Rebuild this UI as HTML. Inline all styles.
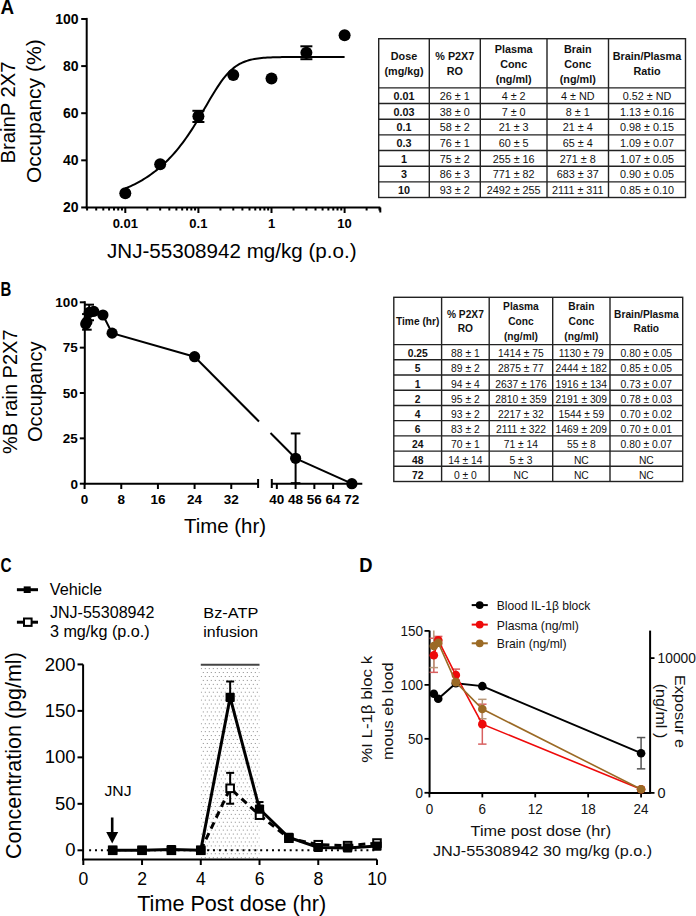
<!DOCTYPE html>
<html><head><meta charset="utf-8"><style>
html,body{margin:0;padding:0;background:#fff;}
svg{display:block;}
text{font-family:"Liberation Sans",sans-serif;}
</style></head><body>
<svg width="696" height="916" viewBox="0 0 696 916">
<rect width="696" height="916" fill="#fff"/>
<text font-size="20.8" font-weight="bold" transform="translate(0.43 14.20) scale(0.905 1)">A</text>
<line x1="86.70" y1="17.90" x2="86.70" y2="208.50" stroke="#000" stroke-width="2" />
<line x1="85.70" y1="207.50" x2="380.30" y2="207.50" stroke="#000" stroke-width="2" />
<line x1="81.20" y1="207.45" x2="86.70" y2="207.45" stroke="#000" stroke-width="2" />
<text x="78.60" y="212.35" font-size="14" font-weight="bold" text-anchor="end" >20</text>
<line x1="81.20" y1="160.33" x2="86.70" y2="160.33" stroke="#000" stroke-width="2" />
<text x="78.60" y="165.23" font-size="14" font-weight="bold" text-anchor="end" >40</text>
<line x1="81.20" y1="113.21" x2="86.70" y2="113.21" stroke="#000" stroke-width="2" />
<text x="78.60" y="118.11" font-size="14" font-weight="bold" text-anchor="end" >60</text>
<line x1="81.20" y1="66.09" x2="86.70" y2="66.09" stroke="#000" stroke-width="2" />
<text x="78.60" y="70.99" font-size="14" font-weight="bold" text-anchor="end" >80</text>
<line x1="81.20" y1="18.97" x2="86.70" y2="18.97" stroke="#000" stroke-width="2" />
<text x="78.60" y="23.87" font-size="14" font-weight="bold" text-anchor="end" >100</text>
<line x1="87.08" y1="207.50" x2="87.08" y2="210.50" stroke="#000" stroke-width="2" />
<line x1="96.21" y1="207.50" x2="96.21" y2="210.50" stroke="#000" stroke-width="2" />
<line x1="103.29" y1="207.50" x2="103.29" y2="210.50" stroke="#000" stroke-width="2" />
<line x1="109.08" y1="207.50" x2="109.08" y2="210.50" stroke="#000" stroke-width="2" />
<line x1="113.98" y1="207.50" x2="113.98" y2="210.50" stroke="#000" stroke-width="2" />
<line x1="118.22" y1="207.50" x2="118.22" y2="210.50" stroke="#000" stroke-width="2" />
<line x1="121.96" y1="207.50" x2="121.96" y2="210.50" stroke="#000" stroke-width="2" />
<line x1="125.30" y1="207.50" x2="125.30" y2="213.00" stroke="#000" stroke-width="2" />
<line x1="147.31" y1="207.50" x2="147.31" y2="210.50" stroke="#000" stroke-width="2" />
<line x1="160.18" y1="207.50" x2="160.18" y2="210.50" stroke="#000" stroke-width="2" />
<line x1="169.31" y1="207.50" x2="169.31" y2="210.50" stroke="#000" stroke-width="2" />
<line x1="176.39" y1="207.50" x2="176.39" y2="210.50" stroke="#000" stroke-width="2" />
<line x1="182.18" y1="207.50" x2="182.18" y2="210.50" stroke="#000" stroke-width="2" />
<line x1="187.08" y1="207.50" x2="187.08" y2="210.50" stroke="#000" stroke-width="2" />
<line x1="191.32" y1="207.50" x2="191.32" y2="210.50" stroke="#000" stroke-width="2" />
<line x1="195.06" y1="207.50" x2="195.06" y2="210.50" stroke="#000" stroke-width="2" />
<line x1="198.40" y1="207.50" x2="198.40" y2="213.00" stroke="#000" stroke-width="2" />
<line x1="220.41" y1="207.50" x2="220.41" y2="210.50" stroke="#000" stroke-width="2" />
<line x1="233.28" y1="207.50" x2="233.28" y2="210.50" stroke="#000" stroke-width="2" />
<line x1="242.41" y1="207.50" x2="242.41" y2="210.50" stroke="#000" stroke-width="2" />
<line x1="249.49" y1="207.50" x2="249.49" y2="210.50" stroke="#000" stroke-width="2" />
<line x1="255.28" y1="207.50" x2="255.28" y2="210.50" stroke="#000" stroke-width="2" />
<line x1="260.18" y1="207.50" x2="260.18" y2="210.50" stroke="#000" stroke-width="2" />
<line x1="264.42" y1="207.50" x2="264.42" y2="210.50" stroke="#000" stroke-width="2" />
<line x1="268.16" y1="207.50" x2="268.16" y2="210.50" stroke="#000" stroke-width="2" />
<line x1="271.50" y1="207.50" x2="271.50" y2="213.00" stroke="#000" stroke-width="2" />
<line x1="293.51" y1="207.50" x2="293.51" y2="210.50" stroke="#000" stroke-width="2" />
<line x1="306.38" y1="207.50" x2="306.38" y2="210.50" stroke="#000" stroke-width="2" />
<line x1="315.51" y1="207.50" x2="315.51" y2="210.50" stroke="#000" stroke-width="2" />
<line x1="322.59" y1="207.50" x2="322.59" y2="210.50" stroke="#000" stroke-width="2" />
<line x1="328.38" y1="207.50" x2="328.38" y2="210.50" stroke="#000" stroke-width="2" />
<line x1="333.28" y1="207.50" x2="333.28" y2="210.50" stroke="#000" stroke-width="2" />
<line x1="337.52" y1="207.50" x2="337.52" y2="210.50" stroke="#000" stroke-width="2" />
<line x1="341.26" y1="207.50" x2="341.26" y2="210.50" stroke="#000" stroke-width="2" />
<line x1="344.60" y1="207.50" x2="344.60" y2="213.00" stroke="#000" stroke-width="2" />
<line x1="366.61" y1="207.50" x2="366.61" y2="210.50" stroke="#000" stroke-width="2" />
<line x1="379.48" y1="207.50" x2="379.48" y2="210.50" stroke="#000" stroke-width="2" />
<line x1="380.30" y1="207.50" x2="380.30" y2="212.50" stroke="#000" stroke-width="2" />
<text x="125.30" y="228.30" font-size="13" font-weight="bold" text-anchor="middle" >0.01</text>
<text x="198.40" y="228.30" font-size="13" font-weight="bold" text-anchor="middle" >0.1</text>
<text x="271.50" y="228.30" font-size="13" font-weight="bold" text-anchor="middle" >1</text>
<text x="344.60" y="228.30" font-size="13" font-weight="bold" text-anchor="middle" >10</text>
<text x="107.00" y="257.60" font-size="20.5" textLength="249.50" lengthAdjust="spacingAndGlyphs" >JNJ-55308942 mg/kg (p.o.)</text>
<text x="14.70" y="112.60" font-size="20.5" text-anchor="middle" textLength="102.00" lengthAdjust="spacingAndGlyphs" transform="rotate(-90 14.70 112.60)" >BrainP 2X7</text>
<text x="41.40" y="111.20" font-size="20.5" text-anchor="middle" textLength="143.80" lengthAdjust="spacingAndGlyphs" transform="rotate(-90 41.40 111.20)" >Occupancy (%)</text>
<polyline fill="none" stroke="#000" stroke-width="2" points="125.30,188.54 127.14,187.76 128.99,186.94 130.83,186.09 132.67,185.21 134.51,184.30 136.36,183.35 138.20,182.36 140.04,181.33 141.89,180.26 143.73,179.15 145.57,178.00 147.41,176.81 149.26,175.56 151.10,174.27 152.94,172.93 154.79,171.54 156.63,170.09 158.47,168.59 160.31,167.03 162.16,165.41 164.00,163.72 165.84,161.98 167.69,160.17 169.53,158.29 171.37,156.34 173.21,154.32 175.06,152.22 176.90,150.05 178.74,147.81 180.59,145.48 182.43,143.08 184.27,140.60 186.11,138.03 187.96,135.39 189.80,132.67 191.64,129.88 193.49,127.01 195.33,124.08 197.17,121.08 199.01,118.02 200.86,114.92 202.70,111.78 204.54,108.62 206.39,105.44 208.23,102.27 210.07,99.12 211.91,96.00 213.76,92.95 215.60,89.97 217.44,87.09 219.29,84.32 221.13,81.68 222.97,79.19 224.81,76.85 226.66,74.67 228.50,72.66 230.34,70.82 232.19,69.14 234.03,67.63 235.87,66.27 237.71,65.06 239.56,63.98 241.40,63.04 243.24,62.20 245.09,61.47 246.93,60.84 248.77,60.28 250.61,59.80 252.46,59.39 254.30,59.03 256.14,58.73 257.99,58.46 259.83,58.23 261.67,58.04 263.51,57.87 265.36,57.73 267.20,57.61 269.04,57.50 270.89,57.41 272.73,57.34 274.57,57.27 276.41,57.22 278.26,57.17 280.10,57.13 281.94,57.10 283.79,57.07 285.63,57.04 287.47,57.02 289.31,57.00 291.16,56.99 293.00,56.97 294.84,56.96 296.69,56.95 298.53,56.95 300.37,56.94 302.21,56.93 304.06,56.93 305.90,56.92 307.74,56.92 309.59,56.92 311.43,56.91 313.27,56.91 315.11,56.91 316.96,56.91 318.80,56.91 320.64,56.91 322.49,56.91 324.33,56.90 326.17,56.90 328.01,56.90 329.86,56.90 331.70,56.90 333.54,56.90 335.39,56.90 337.23,56.90 339.07,56.90 340.91,56.90 342.76,56.90 344.60,56.90"/>
<circle cx="125.30" cy="193.20" r="6" fill="#000"/>
<circle cx="160.18" cy="164.20" r="6" fill="#000"/>
<line x1="198.40" y1="110.80" x2="198.40" y2="122.00" stroke="#000" stroke-width="2" />
<line x1="192.40" y1="110.80" x2="204.40" y2="110.80" stroke="#000" stroke-width="2" />
<line x1="192.40" y1="122.00" x2="204.40" y2="122.00" stroke="#000" stroke-width="2" />
<circle cx="198.40" cy="116.20" r="6" fill="#000"/>
<circle cx="233.28" cy="75.00" r="6" fill="#000"/>
<circle cx="271.50" cy="78.50" r="6" fill="#000"/>
<line x1="306.38" y1="46.30" x2="306.38" y2="59.20" stroke="#000" stroke-width="2" />
<line x1="300.38" y1="46.30" x2="312.38" y2="46.30" stroke="#000" stroke-width="2" />
<line x1="300.38" y1="59.20" x2="312.38" y2="59.20" stroke="#000" stroke-width="2" />
<circle cx="306.38" cy="52.80" r="6" fill="#000"/>
<circle cx="344.60" cy="35.30" r="6" fill="#000"/>
<rect x="378.70" y="38.70" width="306.80" height="158.80" fill="none" stroke="#222" stroke-width="1.4"/>
<line x1="429.30" y1="38.70" x2="429.30" y2="197.50" stroke="#222" stroke-width="1.4" />
<line x1="480.30" y1="38.70" x2="480.30" y2="197.50" stroke="#222" stroke-width="1.4" />
<line x1="547.00" y1="38.70" x2="547.00" y2="197.50" stroke="#222" stroke-width="1.4" />
<line x1="608.50" y1="38.70" x2="608.50" y2="197.50" stroke="#222" stroke-width="1.4" />
<line x1="378.70" y1="87.90" x2="685.50" y2="87.90" stroke="#222" stroke-width="1.4" />
<line x1="378.70" y1="103.56" x2="685.50" y2="103.56" stroke="#222" stroke-width="1.4" />
<line x1="378.70" y1="119.21" x2="685.50" y2="119.21" stroke="#222" stroke-width="1.4" />
<line x1="378.70" y1="134.87" x2="685.50" y2="134.87" stroke="#222" stroke-width="1.4" />
<line x1="378.70" y1="150.53" x2="685.50" y2="150.53" stroke="#222" stroke-width="1.4" />
<line x1="378.70" y1="166.19" x2="685.50" y2="166.19" stroke="#222" stroke-width="1.4" />
<line x1="378.70" y1="181.84" x2="685.50" y2="181.84" stroke="#222" stroke-width="1.4" />
<text x="404.00" y="60.08" font-size="10.8" font-weight="bold" text-anchor="middle" fill="#111" >Dose</text>
<text x="404.00" y="75.18" font-size="10.8" font-weight="bold" text-anchor="middle" fill="#111" >(mg/kg)</text>
<text x="454.80" y="60.08" font-size="10.8" font-weight="bold" text-anchor="middle" fill="#111" >% P2X7</text>
<text x="454.80" y="75.18" font-size="10.8" font-weight="bold" text-anchor="middle" fill="#111" >RO</text>
<text x="513.65" y="52.53" font-size="10.8" font-weight="bold" text-anchor="middle" fill="#111" >Plasma</text>
<text x="513.65" y="67.63" font-size="10.8" font-weight="bold" text-anchor="middle" fill="#111" >Conc</text>
<text x="513.65" y="82.73" font-size="10.8" font-weight="bold" text-anchor="middle" fill="#111" >(ng/ml)</text>
<text x="577.75" y="52.53" font-size="10.8" font-weight="bold" text-anchor="middle" fill="#111" >Brain</text>
<text x="577.75" y="67.63" font-size="10.8" font-weight="bold" text-anchor="middle" fill="#111" >Conc</text>
<text x="577.75" y="82.73" font-size="10.8" font-weight="bold" text-anchor="middle" fill="#111" >(ng/ml)</text>
<text x="647.00" y="60.08" font-size="10.8" font-weight="bold" text-anchor="middle" fill="#111" >Brain/Plasma</text>
<text x="647.00" y="75.18" font-size="10.8" font-weight="bold" text-anchor="middle" fill="#111" >Ratio</text>
<text x="404.00" y="100.16" font-size="10.8" font-weight="bold" text-anchor="middle" fill="#111" >0.01</text>
<text x="454.80" y="100.16" font-size="10.8" text-anchor="middle" fill="#111" >26 ± 1</text>
<text x="513.65" y="100.16" font-size="10.8" text-anchor="middle" fill="#111" >4 ± 2</text>
<text x="577.75" y="100.16" font-size="10.8" text-anchor="middle" fill="#111" >4 ± ND</text>
<text x="647.00" y="100.16" font-size="10.8" text-anchor="middle" fill="#111" >0.52 ± ND</text>
<text x="404.00" y="115.82" font-size="10.8" font-weight="bold" text-anchor="middle" fill="#111" >0.03</text>
<text x="454.80" y="115.82" font-size="10.8" text-anchor="middle" fill="#111" >38 ± 0</text>
<text x="513.65" y="115.82" font-size="10.8" text-anchor="middle" fill="#111" >7 ± 0</text>
<text x="577.75" y="115.82" font-size="10.8" text-anchor="middle" fill="#111" >8 ± 1</text>
<text x="647.00" y="115.82" font-size="10.8" text-anchor="middle" fill="#111" >1.13 ± 0.16</text>
<text x="404.00" y="131.48" font-size="10.8" font-weight="bold" text-anchor="middle" fill="#111" >0.1</text>
<text x="454.80" y="131.48" font-size="10.8" text-anchor="middle" fill="#111" >58 ± 2</text>
<text x="513.65" y="131.48" font-size="10.8" text-anchor="middle" fill="#111" >21 ± 3</text>
<text x="577.75" y="131.48" font-size="10.8" text-anchor="middle" fill="#111" >21 ± 4</text>
<text x="647.00" y="131.48" font-size="10.8" text-anchor="middle" fill="#111" >0.98 ± 0.15</text>
<text x="404.00" y="147.13" font-size="10.8" font-weight="bold" text-anchor="middle" fill="#111" >0.3</text>
<text x="454.80" y="147.13" font-size="10.8" text-anchor="middle" fill="#111" >76 ± 1</text>
<text x="513.65" y="147.13" font-size="10.8" text-anchor="middle" fill="#111" >60 ± 5</text>
<text x="577.75" y="147.13" font-size="10.8" text-anchor="middle" fill="#111" >65 ± 4</text>
<text x="647.00" y="147.13" font-size="10.8" text-anchor="middle" fill="#111" >1.09 ± 0.07</text>
<text x="404.00" y="162.79" font-size="10.8" font-weight="bold" text-anchor="middle" fill="#111" >1</text>
<text x="454.80" y="162.79" font-size="10.8" text-anchor="middle" fill="#111" >75 ± 2</text>
<text x="513.65" y="162.79" font-size="10.8" text-anchor="middle" fill="#111" >255 ± 16</text>
<text x="577.75" y="162.79" font-size="10.8" text-anchor="middle" fill="#111" >271 ± 8</text>
<text x="647.00" y="162.79" font-size="10.8" text-anchor="middle" fill="#111" >1.07 ± 0.05</text>
<text x="404.00" y="178.45" font-size="10.8" font-weight="bold" text-anchor="middle" fill="#111" >3</text>
<text x="454.80" y="178.45" font-size="10.8" text-anchor="middle" fill="#111" >86 ± 3</text>
<text x="513.65" y="178.45" font-size="10.8" text-anchor="middle" fill="#111" >771 ± 82</text>
<text x="577.75" y="178.45" font-size="10.8" text-anchor="middle" fill="#111" >683 ± 37</text>
<text x="647.00" y="178.45" font-size="10.8" text-anchor="middle" fill="#111" >0.90 ± 0.05</text>
<text x="404.00" y="194.11" font-size="10.8" font-weight="bold" text-anchor="middle" fill="#111" >10</text>
<text x="454.80" y="194.11" font-size="10.8" text-anchor="middle" fill="#111" >93 ± 2</text>
<text x="513.65" y="194.11" font-size="10.8" text-anchor="middle" fill="#111" >2492 ± 255</text>
<text x="577.75" y="194.11" font-size="10.8" text-anchor="middle" fill="#111" >2111 ± 311</text>
<text x="647.00" y="194.11" font-size="10.8" text-anchor="middle" fill="#111" >0.85 ± 0.10</text>
<text font-size="19.9" font-weight="bold" transform="translate(0.40 296.30) scale(0.75 1)">B</text>
<line x1="84.80" y1="301.20" x2="84.80" y2="484.70" stroke="#000" stroke-width="2" />
<line x1="83.80" y1="483.70" x2="258.10" y2="483.70" stroke="#000" stroke-width="2" />
<line x1="258.10" y1="479.00" x2="258.10" y2="488.00" stroke="#000" stroke-width="2" />
<line x1="271.80" y1="479.00" x2="271.80" y2="488.00" stroke="#000" stroke-width="2" />
<line x1="271.80" y1="483.70" x2="362.30" y2="483.70" stroke="#000" stroke-width="2" />
<line x1="79.80" y1="483.70" x2="84.80" y2="483.70" stroke="#000" stroke-width="2" />
<text x="77.90" y="488.50" font-size="13.5" font-weight="bold" text-anchor="end" >0</text>
<line x1="79.80" y1="438.35" x2="84.80" y2="438.35" stroke="#000" stroke-width="2" />
<text x="77.90" y="443.15" font-size="13.5" font-weight="bold" text-anchor="end" >25</text>
<line x1="79.80" y1="393.00" x2="84.80" y2="393.00" stroke="#000" stroke-width="2" />
<text x="77.90" y="397.80" font-size="13.5" font-weight="bold" text-anchor="end" >50</text>
<line x1="79.80" y1="347.65" x2="84.80" y2="347.65" stroke="#000" stroke-width="2" />
<text x="77.90" y="352.45" font-size="13.5" font-weight="bold" text-anchor="end" >75</text>
<line x1="79.80" y1="302.30" x2="84.80" y2="302.30" stroke="#000" stroke-width="2" />
<text x="77.90" y="307.10" font-size="13.5" font-weight="bold" text-anchor="end" >100</text>
<line x1="84.60" y1="483.70" x2="84.60" y2="489.00" stroke="#000" stroke-width="2" />
<text x="84.60" y="504.20" font-size="13.5" font-weight="bold" text-anchor="middle" >0</text>
<line x1="121.26" y1="483.70" x2="121.26" y2="489.00" stroke="#000" stroke-width="2" />
<text x="121.26" y="504.20" font-size="13.5" font-weight="bold" text-anchor="middle" >8</text>
<line x1="157.93" y1="483.70" x2="157.93" y2="489.00" stroke="#000" stroke-width="2" />
<text x="157.93" y="504.20" font-size="13.5" font-weight="bold" text-anchor="middle" >16</text>
<line x1="194.59" y1="483.70" x2="194.59" y2="489.00" stroke="#000" stroke-width="2" />
<text x="194.59" y="504.20" font-size="13.5" font-weight="bold" text-anchor="middle" >24</text>
<line x1="231.26" y1="483.70" x2="231.26" y2="489.00" stroke="#000" stroke-width="2" />
<text x="231.26" y="504.20" font-size="13.5" font-weight="bold" text-anchor="middle" >32</text>
<line x1="276.84" y1="483.70" x2="276.84" y2="489.00" stroke="#000" stroke-width="2" />
<text x="276.84" y="504.20" font-size="13.5" font-weight="bold" text-anchor="middle" >40</text>
<line x1="295.60" y1="483.70" x2="295.60" y2="489.00" stroke="#000" stroke-width="2" />
<text x="295.60" y="504.20" font-size="13.5" font-weight="bold" text-anchor="middle" >48</text>
<line x1="314.36" y1="483.70" x2="314.36" y2="489.00" stroke="#000" stroke-width="2" />
<text x="314.36" y="504.20" font-size="13.5" font-weight="bold" text-anchor="middle" >56</text>
<line x1="333.12" y1="483.70" x2="333.12" y2="489.00" stroke="#000" stroke-width="2" />
<text x="333.12" y="504.20" font-size="13.5" font-weight="bold" text-anchor="middle" >64</text>
<line x1="351.88" y1="483.70" x2="351.88" y2="489.00" stroke="#000" stroke-width="2" />
<text x="351.88" y="504.20" font-size="13.5" font-weight="bold" text-anchor="middle" >72</text>
<text x="184.00" y="533.00" font-size="20.3" textLength="82.00" lengthAdjust="spacingAndGlyphs" >Time (hr)</text>
<text x="16.50" y="391.75" font-size="20.5" text-anchor="middle" textLength="124.50" lengthAdjust="spacingAndGlyphs" transform="rotate(-90 16.50 391.75)" >%B rain P2X7</text>
<text x="42.00" y="391.75" font-size="20.5" text-anchor="middle" textLength="100.50" lengthAdjust="spacingAndGlyphs" transform="rotate(-90 42.00 391.75)" >Occupancy</text>
<polyline fill="none" stroke="#000" stroke-width="2" points="85.75,324.07 86.89,321.89 89.18,312.46 93.77,311.37 102.93,315.00 112.10,333.14 194.59,356.72"/>
<line x1="194.59" y1="356.72" x2="259.00" y2="421.50" stroke="#000" stroke-width="2" />
<line x1="270.50" y1="433.06" x2="295.60" y2="458.30" stroke="#000" stroke-width="2" />
<line x1="295.60" y1="458.30" x2="351.88" y2="483.70" stroke="#000" stroke-width="2" />
<line x1="86.89" y1="314.09" x2="86.89" y2="329.69" stroke="#000" stroke-width="2" />
<line x1="82.09" y1="314.09" x2="91.69" y2="314.09" stroke="#000" stroke-width="2" />
<line x1="82.09" y1="329.69" x2="91.69" y2="329.69" stroke="#000" stroke-width="2" />
<line x1="89.18" y1="304.66" x2="89.18" y2="320.26" stroke="#000" stroke-width="2" />
<line x1="84.38" y1="304.66" x2="93.98" y2="304.66" stroke="#000" stroke-width="2" />
<line x1="84.38" y1="320.26" x2="93.98" y2="320.26" stroke="#000" stroke-width="2" />
<line x1="295.60" y1="433.45" x2="295.60" y2="483.16" stroke="#000" stroke-width="2" />
<line x1="290.80" y1="433.45" x2="300.40" y2="433.45" stroke="#000" stroke-width="2" />
<line x1="290.80" y1="483.16" x2="300.40" y2="483.16" stroke="#000" stroke-width="2" />
<circle cx="85.75" cy="324.07" r="5.6" fill="#000"/>
<circle cx="86.89" cy="321.89" r="5.6" fill="#000"/>
<circle cx="89.18" cy="312.46" r="5.6" fill="#000"/>
<circle cx="93.77" cy="311.37" r="5.6" fill="#000"/>
<circle cx="102.93" cy="315.00" r="5.6" fill="#000"/>
<circle cx="112.10" cy="333.14" r="5.6" fill="#000"/>
<circle cx="194.59" cy="356.72" r="5.6" fill="#000"/>
<circle cx="295.60" cy="458.30" r="5.6" fill="#000"/>
<circle cx="351.88" cy="483.70" r="5.6" fill="#000"/>
<rect x="393.80" y="297.30" width="288.90" height="184.20" fill="none" stroke="#222" stroke-width="1.4"/>
<line x1="441.60" y1="297.30" x2="441.60" y2="481.50" stroke="#222" stroke-width="1.4" />
<line x1="489.20" y1="297.30" x2="489.20" y2="481.50" stroke="#222" stroke-width="1.4" />
<line x1="552.70" y1="297.30" x2="552.70" y2="481.50" stroke="#222" stroke-width="1.4" />
<line x1="610.00" y1="297.30" x2="610.00" y2="481.50" stroke="#222" stroke-width="1.4" />
<line x1="393.80" y1="344.60" x2="682.70" y2="344.60" stroke="#222" stroke-width="1.4" />
<line x1="393.80" y1="359.81" x2="682.70" y2="359.81" stroke="#222" stroke-width="1.4" />
<line x1="393.80" y1="375.02" x2="682.70" y2="375.02" stroke="#222" stroke-width="1.4" />
<line x1="393.80" y1="390.23" x2="682.70" y2="390.23" stroke="#222" stroke-width="1.4" />
<line x1="393.80" y1="405.44" x2="682.70" y2="405.44" stroke="#222" stroke-width="1.4" />
<line x1="393.80" y1="420.66" x2="682.70" y2="420.66" stroke="#222" stroke-width="1.4" />
<line x1="393.80" y1="435.87" x2="682.70" y2="435.87" stroke="#222" stroke-width="1.4" />
<line x1="393.80" y1="451.08" x2="682.70" y2="451.08" stroke="#222" stroke-width="1.4" />
<line x1="393.80" y1="466.29" x2="682.70" y2="466.29" stroke="#222" stroke-width="1.4" />
<text x="417.70" y="325.07" font-size="10.2" font-weight="bold" text-anchor="middle" fill="#111" >Time (hr)</text>
<text x="465.40" y="317.67" font-size="10.2" font-weight="bold" text-anchor="middle" fill="#111" >% P2X7</text>
<text x="465.40" y="332.47" font-size="10.2" font-weight="bold" text-anchor="middle" fill="#111" >RO</text>
<text x="520.95" y="310.27" font-size="10.2" font-weight="bold" text-anchor="middle" fill="#111" >Plasma</text>
<text x="520.95" y="325.07" font-size="10.2" font-weight="bold" text-anchor="middle" fill="#111" >Conc</text>
<text x="520.95" y="339.87" font-size="10.2" font-weight="bold" text-anchor="middle" fill="#111" >(ng/ml)</text>
<text x="581.35" y="310.27" font-size="10.2" font-weight="bold" text-anchor="middle" fill="#111" >Brain</text>
<text x="581.35" y="325.07" font-size="10.2" font-weight="bold" text-anchor="middle" fill="#111" >Conc</text>
<text x="581.35" y="339.87" font-size="10.2" font-weight="bold" text-anchor="middle" fill="#111" >(ng/ml)</text>
<text x="646.35" y="317.67" font-size="10.2" font-weight="bold" text-anchor="middle" fill="#111" >Brain/Plasma</text>
<text x="646.35" y="332.47" font-size="10.2" font-weight="bold" text-anchor="middle" fill="#111" >Ratio</text>
<text x="417.70" y="357.16" font-size="10.3" font-weight="bold" text-anchor="middle" fill="#111" >0.25</text>
<text x="465.40" y="357.16" font-size="10.3" text-anchor="middle" fill="#111" >88 ± 1</text>
<text x="520.95" y="357.16" font-size="10.3" text-anchor="middle" fill="#111" >1414 ± 75</text>
<text x="581.35" y="357.16" font-size="10.3" text-anchor="middle" fill="#111" >1130 ± 79</text>
<text x="646.35" y="357.16" font-size="10.3" text-anchor="middle" fill="#111" >0.80 ± 0.05</text>
<text x="417.70" y="372.37" font-size="10.3" font-weight="bold" text-anchor="middle" fill="#111" >5</text>
<text x="465.40" y="372.37" font-size="10.3" text-anchor="middle" fill="#111" >89 ± 2</text>
<text x="520.95" y="372.37" font-size="10.3" text-anchor="middle" fill="#111" >2875 ± 77</text>
<text x="581.35" y="372.37" font-size="10.3" text-anchor="middle" fill="#111" >2444 ± 182</text>
<text x="646.35" y="372.37" font-size="10.3" text-anchor="middle" fill="#111" >0.85 ± 0.05</text>
<text x="417.70" y="387.58" font-size="10.3" font-weight="bold" text-anchor="middle" fill="#111" >1</text>
<text x="465.40" y="387.58" font-size="10.3" text-anchor="middle" fill="#111" >94 ± 4</text>
<text x="520.95" y="387.58" font-size="10.3" text-anchor="middle" fill="#111" >2637 ± 176</text>
<text x="581.35" y="387.58" font-size="10.3" text-anchor="middle" fill="#111" >1916 ± 134</text>
<text x="646.35" y="387.58" font-size="10.3" text-anchor="middle" fill="#111" >0.73 ± 0.07</text>
<text x="417.70" y="402.80" font-size="10.3" font-weight="bold" text-anchor="middle" fill="#111" >2</text>
<text x="465.40" y="402.80" font-size="10.3" text-anchor="middle" fill="#111" >95 ± 2</text>
<text x="520.95" y="402.80" font-size="10.3" text-anchor="middle" fill="#111" >2810 ± 359</text>
<text x="581.35" y="402.80" font-size="10.3" text-anchor="middle" fill="#111" >2191 ± 309</text>
<text x="646.35" y="402.80" font-size="10.3" text-anchor="middle" fill="#111" >0.78 ± 0.03</text>
<text x="417.70" y="418.01" font-size="10.3" font-weight="bold" text-anchor="middle" fill="#111" >4</text>
<text x="465.40" y="418.01" font-size="10.3" text-anchor="middle" fill="#111" >93 ± 2</text>
<text x="520.95" y="418.01" font-size="10.3" text-anchor="middle" fill="#111" >2217 ± 32</text>
<text x="581.35" y="418.01" font-size="10.3" text-anchor="middle" fill="#111" >1544 ± 59</text>
<text x="646.35" y="418.01" font-size="10.3" text-anchor="middle" fill="#111" >0.70 ± 0.02</text>
<text x="417.70" y="433.22" font-size="10.3" font-weight="bold" text-anchor="middle" fill="#111" >6</text>
<text x="465.40" y="433.22" font-size="10.3" text-anchor="middle" fill="#111" >83 ± 2</text>
<text x="520.95" y="433.22" font-size="10.3" text-anchor="middle" fill="#111" >2111 ± 322</text>
<text x="581.35" y="433.22" font-size="10.3" text-anchor="middle" fill="#111" >1469 ± 209</text>
<text x="646.35" y="433.22" font-size="10.3" text-anchor="middle" fill="#111" >0.70 ± 0.01</text>
<text x="417.70" y="448.43" font-size="10.3" font-weight="bold" text-anchor="middle" fill="#111" >24</text>
<text x="465.40" y="448.43" font-size="10.3" text-anchor="middle" fill="#111" >70 ± 1</text>
<text x="520.95" y="448.43" font-size="10.3" text-anchor="middle" fill="#111" >71 ± 14</text>
<text x="581.35" y="448.43" font-size="10.3" text-anchor="middle" fill="#111" >55 ± 8</text>
<text x="646.35" y="448.43" font-size="10.3" text-anchor="middle" fill="#111" >0.80 ± 0.07</text>
<text x="417.70" y="463.64" font-size="10.3" font-weight="bold" text-anchor="middle" fill="#111" >48</text>
<text x="465.40" y="463.64" font-size="10.3" text-anchor="middle" fill="#111" >14 ± 14</text>
<text x="520.95" y="463.64" font-size="10.3" text-anchor="middle" fill="#111" >5 ± 3</text>
<text x="581.35" y="463.64" font-size="10.3" text-anchor="middle" fill="#111" >NC</text>
<text x="646.35" y="463.64" font-size="10.3" text-anchor="middle" fill="#111" >NC</text>
<text x="417.70" y="478.85" font-size="10.3" font-weight="bold" text-anchor="middle" fill="#111" >72</text>
<text x="465.40" y="478.85" font-size="10.3" text-anchor="middle" fill="#111" >0 ± 0</text>
<text x="520.95" y="478.85" font-size="10.3" text-anchor="middle" fill="#111" >NC</text>
<text x="581.35" y="478.85" font-size="10.3" text-anchor="middle" fill="#111" >NC</text>
<text x="646.35" y="478.85" font-size="10.3" text-anchor="middle" fill="#111" >NC</text>
<text font-size="20.5" font-weight="bold" transform="translate(0.47 572.00) scale(0.75 1)">C</text>
<defs><pattern id="dots" x="200.8" y="668.1" width="4" height="7.88" patternUnits="userSpaceOnUse"><rect x="0" y="0" width="1" height="1" fill="#888"/><rect x="2" y="3.94" width="1" height="1" fill="#888"/></pattern></defs>
<rect x="200.78" y="667.5" width="58.74" height="191.80" fill="url(#dots)"/>
<line x1="200.78" y1="664.80" x2="259.52" y2="664.80" stroke="#444" stroke-width="2" />
<text x="203.30" y="618.10" font-size="15.5" textLength="55.00" lengthAdjust="spacingAndGlyphs" >Bz-ATP</text>
<text x="203.30" y="636.90" font-size="15.5" textLength="54.80" lengthAdjust="spacingAndGlyphs" >infusion</text>
<line x1="83.10" y1="664.40" x2="83.10" y2="860.30" stroke="#000" stroke-width="2" />
<line x1="82.10" y1="859.40" x2="377.00" y2="859.40" stroke="#000" stroke-width="2" />
<line x1="77.50" y1="850.30" x2="83.10" y2="850.30" stroke="#000" stroke-width="2" />
<text x="75.50" y="856.40" font-size="18.5" text-anchor="end" >0</text>
<line x1="77.50" y1="803.82" x2="83.10" y2="803.82" stroke="#000" stroke-width="2" />
<text x="75.50" y="809.92" font-size="18.5" text-anchor="end" >50</text>
<line x1="77.50" y1="757.35" x2="83.10" y2="757.35" stroke="#000" stroke-width="2" />
<text x="75.50" y="763.45" font-size="18.5" text-anchor="end" >100</text>
<line x1="77.50" y1="710.88" x2="83.10" y2="710.88" stroke="#000" stroke-width="2" />
<text x="75.50" y="716.98" font-size="18.5" text-anchor="end" >150</text>
<line x1="77.50" y1="664.40" x2="83.10" y2="664.40" stroke="#000" stroke-width="2" />
<text x="75.50" y="670.50" font-size="18.5" text-anchor="end" >200</text>
<line x1="83.30" y1="859.40" x2="83.30" y2="865.00" stroke="#000" stroke-width="2" />
<text x="83.30" y="884.70" font-size="18.5" text-anchor="middle" textLength="9.77" lengthAdjust="spacingAndGlyphs" >0</text>
<line x1="142.04" y1="859.40" x2="142.04" y2="865.00" stroke="#000" stroke-width="2" />
<text x="142.04" y="884.70" font-size="18.5" text-anchor="middle" textLength="9.77" lengthAdjust="spacingAndGlyphs" >2</text>
<line x1="200.78" y1="859.40" x2="200.78" y2="865.00" stroke="#000" stroke-width="2" />
<text x="200.78" y="884.70" font-size="18.5" text-anchor="middle" textLength="9.77" lengthAdjust="spacingAndGlyphs" >4</text>
<line x1="259.52" y1="859.40" x2="259.52" y2="865.00" stroke="#000" stroke-width="2" />
<text x="259.52" y="884.70" font-size="18.5" text-anchor="middle" textLength="9.77" lengthAdjust="spacingAndGlyphs" >6</text>
<line x1="318.26" y1="859.40" x2="318.26" y2="865.00" stroke="#000" stroke-width="2" />
<text x="318.26" y="884.70" font-size="18.5" text-anchor="middle" textLength="9.77" lengthAdjust="spacingAndGlyphs" >8</text>
<line x1="377.00" y1="859.40" x2="377.00" y2="865.00" stroke="#000" stroke-width="2" />
<text x="377.00" y="884.70" font-size="18.5" text-anchor="middle" textLength="19.54" lengthAdjust="spacingAndGlyphs" >10</text>
<text x="137.20" y="911.00" font-size="21.5" textLength="189.00" lengthAdjust="spacingAndGlyphs" >Time Post dose (hr)</text>
<text x="21.50" y="755.60" font-size="21.5" text-anchor="middle" textLength="206.80" lengthAdjust="spacingAndGlyphs" transform="rotate(-90 21.50 755.60)" >Concentration (pg/ml)</text>
<line x1="16.90" y1="589.70" x2="38.00" y2="589.70" stroke="#000" stroke-width="3" />
<rect x="23.7" y="586.4" width="7" height="6.6" fill="#000"/>
<text x="49.70" y="594.60" font-size="16" textLength="52.40" lengthAdjust="spacingAndGlyphs" >Vehicle</text>
<line x1="16.90" y1="622.20" x2="38.00" y2="622.20" stroke="#000" stroke-width="3" />
<rect x="24" y="618.5" width="7.6" height="7.4" fill="#fff" stroke="#000" stroke-width="2"/>
<text x="49.90" y="618.40" font-size="16" textLength="104.50" lengthAdjust="spacingAndGlyphs" >JNJ-55308942</text>
<text x="49.90" y="636.60" font-size="16" textLength="99.80" lengthAdjust="spacingAndGlyphs" >3 mg/kg (p.o.)</text>
<text x="104.50" y="795.60" font-size="15" textLength="27.00" lengthAdjust="spacingAndGlyphs" >JNJ</text>
<line x1="112.20" y1="817.50" x2="112.20" y2="834.00" stroke="#000" stroke-width="2.6" />
<polygon points="106.2,832 118.2,832 112.2,843.5" fill="#000"/>
<line x1="89.1" y1="850.3" x2="377.00" y2="850.3" stroke="#000" stroke-width="2" stroke-dasharray="2 3.9" />
<polyline fill="none" stroke="#000" stroke-width="3" stroke-dasharray="7 5" points="200.78,850.30 230.15,788.30 259.52,815.16 288.89,838.22 318.26,844.72 347.63,845.65 377.00,843.05"/>
<polyline fill="none" stroke="#000" stroke-width="3" points="112.67,850.30 142.04,850.30 171.41,849.56 200.78,850.30 230.15,697.30 259.52,809.03 288.89,837.47 318.26,847.51 347.63,847.88 377.00,846.12"/>
<line x1="230.15" y1="772.87" x2="230.15" y2="803.73" stroke="#000" stroke-width="2" />
<line x1="226.15" y1="772.87" x2="234.15" y2="772.87" stroke="#000" stroke-width="2" />
<line x1="226.15" y1="803.73" x2="234.15" y2="803.73" stroke="#000" stroke-width="2" />
<line x1="230.15" y1="681.50" x2="230.15" y2="697.30" stroke="#000" stroke-width="2" />
<line x1="226.15" y1="681.50" x2="234.15" y2="681.50" stroke="#000" stroke-width="2" />
<line x1="259.52" y1="802.06" x2="259.52" y2="809.03" stroke="#000" stroke-width="2" />
<line x1="255.52" y1="802.06" x2="263.52" y2="802.06" stroke="#000" stroke-width="2" />
<rect x="108.87" y="846.50" width="7.6" height="7.6" fill="#fff" stroke="#000" stroke-width="2"/>
<rect x="138.24" y="846.50" width="7.6" height="7.6" fill="#fff" stroke="#000" stroke-width="2"/>
<rect x="167.61" y="846.50" width="7.6" height="7.6" fill="#fff" stroke="#000" stroke-width="2"/>
<rect x="196.98" y="846.50" width="7.6" height="7.6" fill="#fff" stroke="#000" stroke-width="2"/>
<rect x="226.35" y="784.50" width="7.6" height="7.6" fill="#fff" stroke="#000" stroke-width="2"/>
<rect x="255.72" y="811.36" width="7.6" height="7.6" fill="#fff" stroke="#000" stroke-width="2"/>
<rect x="285.09" y="834.42" width="7.6" height="7.6" fill="#fff" stroke="#000" stroke-width="2"/>
<rect x="314.46" y="840.92" width="7.6" height="7.6" fill="#fff" stroke="#000" stroke-width="2"/>
<rect x="343.83" y="841.85" width="7.6" height="7.6" fill="#fff" stroke="#000" stroke-width="2"/>
<rect x="373.20" y="839.25" width="7.6" height="7.6" fill="#fff" stroke="#000" stroke-width="2"/>
<rect x="108.07" y="845.70" width="9.2" height="9.2" fill="#000" rx="1"/>
<rect x="137.44" y="845.70" width="9.2" height="9.2" fill="#000" rx="1"/>
<rect x="166.81" y="844.96" width="9.2" height="9.2" fill="#000" rx="1"/>
<rect x="196.18" y="845.70" width="9.2" height="9.2" fill="#000" rx="1"/>
<rect x="225.55" y="692.70" width="9.2" height="9.2" fill="#000" rx="1"/>
<rect x="254.92" y="804.43" width="9.2" height="9.2" fill="#000" rx="1"/>
<rect x="284.29" y="832.87" width="9.2" height="9.2" fill="#000" rx="1"/>
<rect x="313.66" y="842.91" width="9.2" height="9.2" fill="#000" rx="1"/>
<rect x="343.03" y="843.28" width="9.2" height="9.2" fill="#000" rx="1"/>
<rect x="372.40" y="841.52" width="9.2" height="9.2" fill="#000" rx="1"/>
<text font-size="20.2" font-weight="bold" transform="translate(359.27 571.50) scale(0.91 1)">D</text>
<line x1="471.70" y1="605.10" x2="487.80" y2="605.10" stroke="#000" stroke-width="2" />
<circle cx="479.70" cy="605.10" r="3.9" fill="#000"/>
<line x1="471.70" y1="624.60" x2="487.80" y2="624.60" stroke="#ee0a0a" stroke-width="2" />
<circle cx="479.70" cy="624.60" r="3.9" fill="#ee0a0a"/>
<line x1="471.70" y1="643.30" x2="487.80" y2="643.30" stroke="#9b6a25" stroke-width="2" />
<circle cx="479.70" cy="643.30" r="3.9" fill="#9b6a25"/>
<text x="496.80" y="610.10" font-size="12.2" fill="#111" textLength="93.60" lengthAdjust="spacingAndGlyphs" >Blood IL-1β block</text>
<text x="496.80" y="629.60" font-size="12.2" fill="#111" textLength="81.98" lengthAdjust="spacingAndGlyphs" >Plasma (ng/ml)</text>
<text x="496.80" y="648.30" font-size="12.2" fill="#111" >Brain (ng/ml)</text>
<line x1="429.60" y1="630.60" x2="429.60" y2="793.90" stroke="#000" stroke-width="2" />
<line x1="428.60" y1="792.90" x2="650.10" y2="792.90" stroke="#000" stroke-width="2" />
<line x1="650.10" y1="630.60" x2="650.10" y2="793.90" stroke="#000" stroke-width="2" />
<line x1="424.50" y1="792.80" x2="429.60" y2="792.80" stroke="#000" stroke-width="1.8" />
<text x="423.00" y="798.20" font-size="14.5" text-anchor="end" fill="#111" textLength="7.50" lengthAdjust="spacingAndGlyphs" >0</text>
<line x1="424.50" y1="738.83" x2="429.60" y2="738.83" stroke="#000" stroke-width="1.8" />
<text x="423.00" y="744.23" font-size="14.5" text-anchor="end" fill="#111" textLength="15.00" lengthAdjust="spacingAndGlyphs" >50</text>
<line x1="424.50" y1="684.87" x2="429.60" y2="684.87" stroke="#000" stroke-width="1.8" />
<text x="423.00" y="690.27" font-size="14.5" text-anchor="end" fill="#111" textLength="22.49" lengthAdjust="spacingAndGlyphs" >100</text>
<line x1="424.50" y1="630.90" x2="429.60" y2="630.90" stroke="#000" stroke-width="1.8" />
<text x="423.00" y="636.30" font-size="14.5" text-anchor="end" fill="#111" textLength="22.49" lengthAdjust="spacingAndGlyphs" >150</text>
<line x1="650.10" y1="658.10" x2="654.50" y2="658.10" stroke="#000" stroke-width="1.8" />
<line x1="650.10" y1="792.90" x2="654.50" y2="792.90" stroke="#000" stroke-width="1.8" />
<text x="657.60" y="663.20" font-size="14.5" fill="#111" textLength="38.29" lengthAdjust="spacingAndGlyphs" >10000</text>
<text x="657.40" y="798.30" font-size="14.5" fill="#111" >0</text>
<line x1="429.40" y1="792.90" x2="429.40" y2="797.40" stroke="#000" stroke-width="1.8" />
<text x="429.40" y="813.90" font-size="14.5" text-anchor="middle" fill="#111" textLength="7.50" lengthAdjust="spacingAndGlyphs" >0</text>
<line x1="482.32" y1="792.90" x2="482.32" y2="797.40" stroke="#000" stroke-width="1.8" />
<text x="482.32" y="813.90" font-size="14.5" text-anchor="middle" fill="#111" textLength="7.50" lengthAdjust="spacingAndGlyphs" >6</text>
<line x1="535.24" y1="792.90" x2="535.24" y2="797.40" stroke="#000" stroke-width="1.8" />
<text x="535.24" y="813.90" font-size="14.5" text-anchor="middle" fill="#111" textLength="15.00" lengthAdjust="spacingAndGlyphs" >12</text>
<line x1="588.16" y1="792.90" x2="588.16" y2="797.40" stroke="#000" stroke-width="1.8" />
<text x="588.16" y="813.90" font-size="14.5" text-anchor="middle" fill="#111" textLength="15.00" lengthAdjust="spacingAndGlyphs" >18</text>
<line x1="641.08" y1="792.90" x2="641.08" y2="797.40" stroke="#000" stroke-width="1.8" />
<text x="641.08" y="813.90" font-size="14.5" text-anchor="middle" fill="#111" textLength="15.00" lengthAdjust="spacingAndGlyphs" >24</text>
<text x="470.60" y="836.40" font-size="15" fill="#111" textLength="140.50" lengthAdjust="spacingAndGlyphs" >Time post dose (hr)</text>
<text x="432.90" y="855.60" font-size="15" fill="#111" textLength="219.30" lengthAdjust="spacingAndGlyphs" >JNJ-55308942 30 mg/kg (p.o.)</text>
<text x="372.00" y="709.30" font-size="15" text-anchor="middle" fill="#111" textLength="106.80" lengthAdjust="spacingAndGlyphs" transform="rotate(-90 372.00 709.30)" >%I L-1β bloc k</text>
<text x="393.00" y="711.20" font-size="15" text-anchor="middle" fill="#111" textLength="97.60" lengthAdjust="spacingAndGlyphs" transform="rotate(-90 393.00 711.20)" >mous eb lood</text>
<text x="674.60" y="711.50" font-size="14" text-anchor="middle" fill="#111" textLength="73.00" lengthAdjust="spacingAndGlyphs" transform="rotate(90 674.60 711.50)" >Exposur e</text>
<text x="656.20" y="711.00" font-size="14" text-anchor="middle" fill="#111" textLength="54.60" lengthAdjust="spacingAndGlyphs" transform="rotate(90 656.20 711.00)" >(ng/ml )</text>
<line x1="641.08" y1="737.54" x2="641.08" y2="768.84" stroke="#555" stroke-width="1.5" />
<line x1="636.88" y1="737.54" x2="645.28" y2="737.54" stroke="#555" stroke-width="1.5" />
<line x1="636.88" y1="768.84" x2="645.28" y2="768.84" stroke="#555" stroke-width="1.5" />
<line x1="433.81" y1="638.24" x2="433.81" y2="672.35" stroke="#d86060" stroke-width="1.5" />
<line x1="429.61" y1="638.24" x2="438.01" y2="638.24" stroke="#d86060" stroke-width="1.5" />
<line x1="429.61" y1="672.35" x2="438.01" y2="672.35" stroke="#d86060" stroke-width="1.5" />
<line x1="438.22" y1="636.41" x2="438.22" y2="643.96" stroke="#d86060" stroke-width="1.5" />
<line x1="434.02" y1="636.41" x2="442.42" y2="636.41" stroke="#d86060" stroke-width="1.5" />
<line x1="434.02" y1="643.96" x2="442.42" y2="643.96" stroke="#d86060" stroke-width="1.5" />
<line x1="455.86" y1="669.11" x2="455.86" y2="680.98" stroke="#d86060" stroke-width="1.5" />
<line x1="451.66" y1="669.11" x2="460.06" y2="669.11" stroke="#d86060" stroke-width="1.5" />
<line x1="451.66" y1="680.98" x2="460.06" y2="680.98" stroke="#d86060" stroke-width="1.5" />
<line x1="482.32" y1="704.19" x2="482.32" y2="744.12" stroke="#d86060" stroke-width="1.5" />
<line x1="478.12" y1="704.19" x2="486.52" y2="704.19" stroke="#d86060" stroke-width="1.5" />
<line x1="478.12" y1="744.12" x2="486.52" y2="744.12" stroke="#d86060" stroke-width="1.5" />
<line x1="433.81" y1="630.60" x2="433.81" y2="667.60" stroke="#b8987a" stroke-width="1.5" />
<line x1="429.61" y1="667.60" x2="438.01" y2="667.60" stroke="#b8987a" stroke-width="1.5" />
<line x1="438.22" y1="639.54" x2="438.22" y2="646.02" stroke="#b8987a" stroke-width="1.5" />
<line x1="434.02" y1="639.54" x2="442.42" y2="639.54" stroke="#b8987a" stroke-width="1.5" />
<line x1="434.02" y1="646.02" x2="442.42" y2="646.02" stroke="#b8987a" stroke-width="1.5" />
<line x1="455.86" y1="680.01" x2="455.86" y2="684.33" stroke="#b8987a" stroke-width="1.5" />
<line x1="451.66" y1="680.01" x2="460.06" y2="680.01" stroke="#b8987a" stroke-width="1.5" />
<line x1="451.66" y1="684.33" x2="460.06" y2="684.33" stroke="#b8987a" stroke-width="1.5" />
<line x1="482.32" y1="699.33" x2="482.32" y2="718.76" stroke="#b8987a" stroke-width="1.5" />
<line x1="478.12" y1="699.33" x2="486.52" y2="699.33" stroke="#b8987a" stroke-width="1.5" />
<line x1="478.12" y1="718.76" x2="486.52" y2="718.76" stroke="#b8987a" stroke-width="1.5" />
<polyline fill="none" stroke="#000" stroke-width="1.9" points="433.81,693.72 438.22,698.79 455.86,683.25 482.32,686.17 641.08,753.19"/>
<circle cx="433.81" cy="693.72" r="4.3" fill="#000"/>
<circle cx="438.22" cy="698.79" r="4.3" fill="#000"/>
<circle cx="455.86" cy="683.25" r="4.3" fill="#000"/>
<circle cx="482.32" cy="686.17" r="4.3" fill="#000"/>
<circle cx="641.08" cy="753.19" r="4.3" fill="#000"/>
<polyline fill="none" stroke="#ee0a0a" stroke-width="1.6" points="433.81,655.30 438.22,640.19 455.86,675.05 482.32,724.16 641.08,789.24"/>
<circle cx="433.81" cy="655.30" r="4.3" fill="#ee0a0a"/>
<circle cx="438.22" cy="640.19" r="4.3" fill="#ee0a0a"/>
<circle cx="455.86" cy="675.05" r="4.3" fill="#ee0a0a"/>
<circle cx="482.32" cy="724.16" r="4.3" fill="#ee0a0a"/>
<circle cx="641.08" cy="789.24" r="4.3" fill="#ee0a0a"/>
<polyline fill="none" stroke="#9b6a25" stroke-width="1.6" points="433.81,646.02 438.22,642.78 455.86,682.17 482.32,709.05 641.08,789.24"/>
<circle cx="433.81" cy="646.02" r="4.3" fill="#9b6a25"/>
<circle cx="438.22" cy="642.78" r="4.3" fill="#9b6a25"/>
<circle cx="455.86" cy="682.17" r="4.3" fill="#9b6a25"/>
<circle cx="482.32" cy="709.05" r="4.3" fill="#9b6a25"/>
<circle cx="641.08" cy="789.24" r="4.3" fill="#9b6a25"/>
</svg></body></html>
